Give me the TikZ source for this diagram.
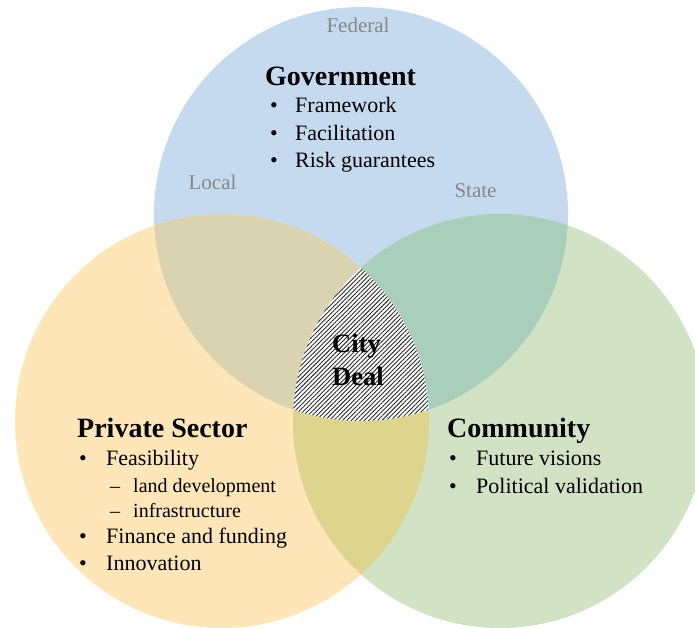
\documentclass[tikz,border=0pt]{standalone}
\usepackage{fontspec}
\setmainfont{Liberation Serif}
\usetikzlibrary{patterns.meta}
\definecolor{cblue}{RGB}{197,218,238}
\definecolor{corange}{RGB}{255,230,185}
\definecolor{cgreen}{RGB}{209,227,196}
\definecolor{cbo}{RGB}{217,211,178}
\definecolor{cbg}{RGB}{170,206,188}
\definecolor{cog}{RGB}{221,213,141}
\definecolor{lvlgray}{RGB}{135,135,135}
\definecolor{hatch}{RGB}{45,45,45}
\begin{document}
\begin{tikzpicture}[x=1pt,y=-1pt,
  head/.style={anchor=base west, inner sep=0pt, font=\fontsize{28}{30}\selectfont\bfseries},
  item/.style={anchor=base west, inner sep=0pt, font=\fontsize{22}{24}\selectfont},
  subitem/.style={anchor=base west, inner sep=0pt, font=\fontsize{20}{22}\selectfont},
  level/.style={anchor=base, inner sep=0pt, text=lvlgray, font=\fontsize{21}{23}\selectfont},
  deal/.style={anchor=base west, inner sep=0pt, font=\fontsize{26.5}{28}\selectfont\bfseries}]
\useasboundingbox (0,0) rectangle (695,627);
\coordinate (T) at (361,214);
\coordinate (L) at (222,421);
\coordinate (R) at (500,421);
% base circles
\fill[cblue] (T) circle[radius=207pt];
\fill[corange] (L) circle[radius=207pt];
\fill[cgreen] (R) circle[radius=207pt];
% pairwise overlaps
\begin{scope}
  \clip (T) circle[radius=207pt];
  \fill[cbo] (L) circle[radius=207pt];
\end{scope}
\begin{scope}
  \clip (T) circle[radius=207pt];
  \fill[cbg] (R) circle[radius=207pt];
\end{scope}
\begin{scope}
  \clip (L) circle[radius=207pt];
  \fill[cog] (R) circle[radius=207pt];
\end{scope}
% triple overlap
\begin{scope}
  \clip (T) circle[radius=207pt];
  \clip (L) circle[radius=207pt];
  \fill[white] (R) circle[radius=207pt];
  \fill[pattern={Lines[angle=45,distance=3.1pt,line width=0.9pt]}, pattern color=hatch] (R) circle[radius=207pt];
\end{scope}
% level labels
\node[level] (federal) at (358,32) {Federal};
\node[level] (local) at (212.5,189) {Local};
\node[level] (state) at (475.5,197) {State};
% Government
\node[head] (gov) at (265,85) {Government};
\node[item] (g1) at (270,112) {\makebox[25pt][l]{•}Framework};
\node[item] (g2) at (270,140) {\makebox[25pt][l]{•}Facilitation};
\node[item] (g3) at (270,167) {\makebox[25pt][l]{•}Risk guarantees};
% Private sector
\node[head] (ps) at (77,437) {Private Sector};
\node[item] (p1) at (79,465) {\makebox[27pt][l]{•}Feasibility};
\node[subitem] (p1a) at (110,492) {\makebox[23pt][l]{–}land development};
\node[subitem] (p1b) at (110,517) {\makebox[23pt][l]{–}infrastructure};
\node[item] (p2) at (79,543) {\makebox[27pt][l]{•}Finance and funding};
\node[item] (p3) at (79,570) {\makebox[27pt][l]{•}Innovation};
% Community
\node[head] (com) at (447,437) {Community};
\node[item] (c1) at (449,465) {\makebox[27pt][l]{•}Future visions};
\node[item] (c2) at (449,493) {\makebox[27pt][l]{•}Political validation};
% City Deal
\node[deal] (city) at (332,352) {City};
\node[deal] (dealtxt) at (332,385) {Deal};
\end{tikzpicture}
\end{document}
